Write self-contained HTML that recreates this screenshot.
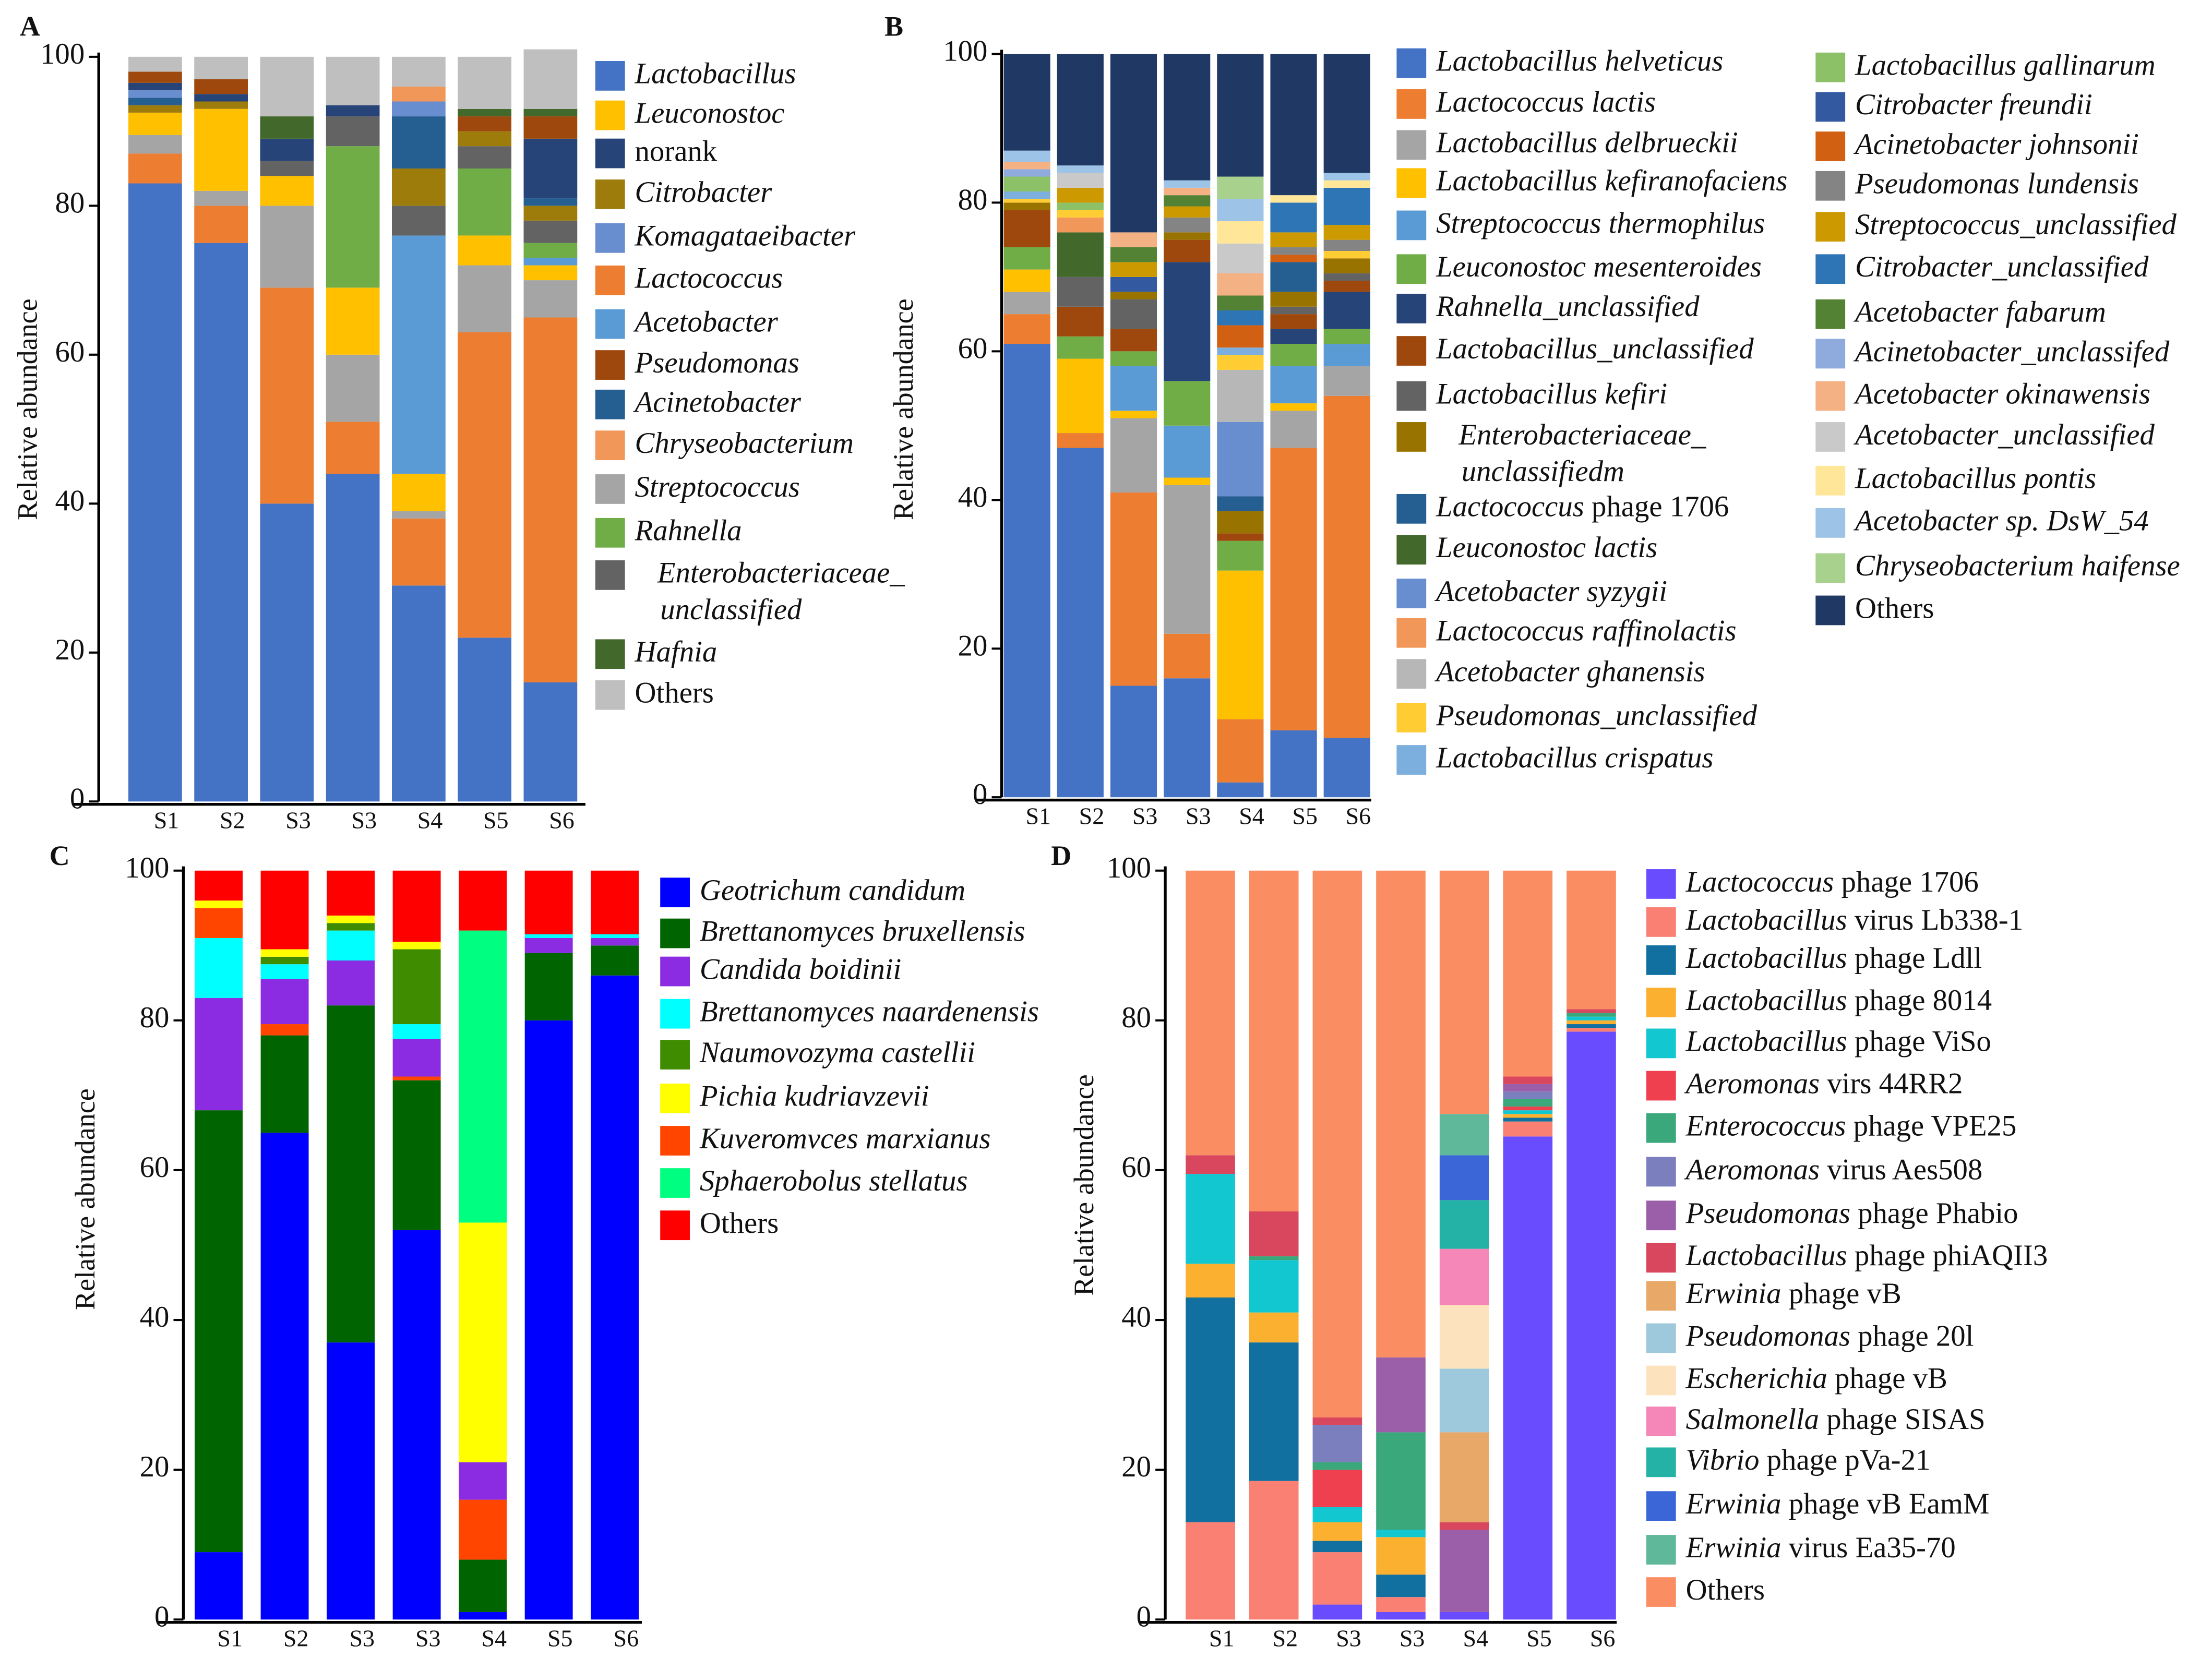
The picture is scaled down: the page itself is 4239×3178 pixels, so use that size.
<!DOCTYPE html>
<html><head><meta charset="utf-8">
<style>
html,body{margin:0;padding:0;background:#fff;}
svg{display:block;}
text{font-family:"Liberation Serif",serif;fill:#111;}
</style></head>
<body>
<svg id="fig" width="4239" height="3178" viewBox="0 0 1568 1175" xmlns="http://www.w3.org/2000/svg"></svg>
<script>
// ---------- Shared ----------
const sampleLabels = ["S1","S2","S3","S3","S4","S5","S6"];
const yTicks = [0,20,40,60,80,100];

// ---------- Panel A data ----------
const aLactobacillus = [83,75,40,44,29,22,16];
const aLactococcus   = [4,5,29,7,9,41,49];
const aStreptococcus = [2.5,2,11,9,1,9,5];
const aLeuconostoc   = [3,11,4,9,5,4,2];
const aAcetobacter   = [0,0,0,0,32,0,1];
const aRahnella      = [0,0,0,19,0,9,2];
const aEntero        = [0,0,2,4,4,3,3];
const aCitrobacter   = [1,1,0,0,5,2,2];
const aAcinetobacter = [1,0,0,0,7,0,1];
const aKomagataeibacter = [1,0,0,0,2,0,0];
const aChryseo       = [0,0,0,0,2,0,0];
const aNorank        = [1,1,3,1.5,0,0,8];
const aPseudomonas   = [1.5,2,0,0,0,2,3];
const aHafnia        = [0,0,3,0,0,1,1];
const aOthers        = [2,3,8,6.5,4,7,8];

// ---------- Panel B data ----------
const bHelveticus=[61,47,15,16,2,9,8];
const bLactis=[4,2,26,6,8.5,38,46];
const bDelbrueckii=[3,0,10,20,0,5,4];
const bKefiranofaciens=[3,10,1,1,20,1,0];
const bThermophilus=[0,0,6,7,0,5,3];
const bLeucMes=[3,3,2,6,4,3,2];
const bRahnella=[0,0,0,16,0,2,5];
const bLbUncl=[5,4,3,3,1,2,1.5];
const bKefiri=[0,4,4,0,0,1,1];
const bEntero=[1,0,1,1,3,2,2];
const bPhage=[0,0,0,0,2,4,0];
const bLeucLactis=[0,6,0,0,0,0,0];
const bSyzygii=[0,0,0,0,10,0,0];
const bRaffino=[0,2,0,0,0,0,0];
const bGhanensis=[0,0,0,0,7,0,0];
const bPsUncl=[0.5,1,0,0,2,0,1];
const bCrispatus=[1,0,0,0,1,0,0];
const bGallinarum=[2,1,0,0,0,0,0];
const bCitroFreundii=[0,0,2,0,0,0,0];
const bJohnsonii=[0,0,0,0,3,1,0];
const bLundensis=[0,0,0,2,0,1,1.5];
const bStrepUncl=[0,2,2,1.5,0,2,2];
const bCitroUncl=[0,0,0,0,2,4,5];
const bAcetoFabarum=[0,0,2,1.5,2,0,0];
const bAcinetoUncl=[1,0,0,0,0,0,0];
const bOkinawensis=[1,0,2,1,3,0,0];
const bAcetoUncl=[0,2,0,0,4,0,0];
const bPontis=[0,0,0,0,3,1,1];
const bDsW=[1.5,1,0,1,3,0,1];
const bHaifense=[0,0,0,0,3,0,0];
const bOthers=[13,15,24,17,16.5,19,16];

// ---------- Panel C data ----------
const cGeotrichum=[9,65,37,52,1,80,86];
const cBrux=[59,13,45,20,7,9,4];
const cKluyvero=[4,1.5,0,0.5,8,0,0];
const cCandida=[15,6,6,5,5,2,1];
const cNaarden=[8,2,4,2,0,0.5,0.5];
const cNaumo=[0,1,1,10,0,0,0];
const cPichia=[1,1,1,1,32,0,0];
const cSphaero=[0,0,0,0,39,0,0];
const cOthers=[4,10.5,6,9.5,8,8.5,8.5];

// ---------- Panel D data ----------
const dL1706=[0,0,2,1,1,64.5,78.5];
const dLb338=[13,18.5,7,2,0,2,0.5];
const dLdll=[30,18.5,1.5,3,0,0.5,0.5];
const d8014=[4.5,4,2.5,5,0,0.5,0.5];
const dViSo=[12,7,2,1,0,0.5,0.5];
const dAero=[0,0,5,0,0,0.5,0];
const dEntero=[0,0.5,1,13,0,1,0.5];
const dAes=[0,0,5,0,0,1,0];
const dPhabio=[0,0,0,10,11,1,0];
const dPhiAQ=[2.5,6,1,0,1,1,0.5];
const dErwVB=[0,0,0,0,12,0,0];
const dPs20l=[0,0,0,0,8.5,0,0];
const dEsch=[0,0,0,0,8.5,0,0];
const dSalm=[0,0,0,0,7.5,0,0];
const dVibrio=[0,0,0,0,6.5,0,0];
const dEamM=[0,0,0,0,6,0,0];
const dEa35=[0,0,0,0,5.5,0,0];
const dOthers=[38,45.5,73,65,32.5,27.5,18.5];

// ---------- Rendering ----------
const svg=document.getElementById('fig');
const NS="http://www.w3.org/2000/svg";
function mk(tag,attrs,parent){const e=document.createElementNS(NS,tag);for(const k in attrs)e.setAttribute(k,attrs[k]);(parent||svg).appendChild(e);return e;}

function legendText(g,x,y,label){
  const t=mk('text',{x:x,y:y,'font-size':21,'dominant-baseline':'middle'},g);
  const parts=label.split('*');
  parts.forEach((p,i)=>{ if(!p)return; const ts=mk('tspan',{},t); if(i%2===1)ts.setAttribute('font-style','italic'); ts.textContent=p;});
  return t;
}

function drawPanel(P){
  const g=mk('g',{});
  
  
  const yS=v=>P.y0-(v/100)*(P.y0-P.y100);
  const xS=i=>P.xStart+i*P.step;
  for(let i=0;i<sampleLabels.length;i++){
    let acc=0;
    const order=(P.orderFor&&P.orderFor(i))||P.series;
    order.forEach(s=>{
      const v=s.vals[i]; if(!(v>0))return;
      const r=mk('rect',{x:xS(i)-P.bw/2,y:yS(acc+v),width:P.bw,height:yS(acc)-yS(acc+v),fill:s.color},g);
      
      
      acc+=v;
    });
  }
  const ya=mk('line',{x1:P.ax,y1:P.y100-3,x2:P.ax,y2:P.y0,stroke:'#000','stroke-width':2},g);
  
  
  const xa=mk('line',{x1:P.ax-18,y1:P.y0+2,x2:P.axEnd,y2:P.y0+2,stroke:'#000','stroke-width':2},g);
  
  
  yTicks.forEach(t=>{
    mk('line',{x1:P.ax-7,y1:yS(t),x2:P.ax,y2:yS(t),stroke:'#000','stroke-width':1.5},g);
    const tl=mk('text',{x:P.ax-10,y:yS(t),'font-size':21,'text-anchor':'end','dominant-baseline':'middle'},g);
    
    
    tl.textContent=t;
  });
  sampleLabels.forEach((s,i)=>{
    const tl=mk('text',{x:xS(i)+8,y:P.y0+19,'font-size':17,'text-anchor':'middle'},g);
    
    
    tl.textContent=s;
  });
  const yt=mk('text',{x:0,y:0,'font-size':20,'text-anchor':'middle',transform:`translate(${P.ytx},${P.yty}) rotate(-90)`},g);
  
  
  yt.textContent='Relative abundance';
  const lt=mk('text',{x:P.lx,y:P.ly,'font-size':20,'font-weight':'bold'},g);
  
  
  lt.textContent=P.letter;
  P.legend.forEach(col=>{
    col.items.forEach((it,k)=>{
      const y=col.ys[k];
      const sw=mk('rect',{x:col.x,y:y-10,width:21,height:21,fill:it.color},g);
      
      
      const lines=it.label.split('|');
      lines.forEach((ln,j)=>{
        const t=legendText(g,col.x+28+(lines.length>1?16:0)+(j>0?2:0),y+j*26+1,ln);
        
        
      });
    });
  });
}

// Panel A
const aSeries=[
 {vals:aLactobacillus,color:'#4472c4'},{vals:aLactococcus,color:'#ed7d31'},{vals:aStreptococcus,color:'#a5a5a5'},
 {vals:aLeuconostoc,color:'#ffc000'},{vals:aAcetobacter,color:'#5b9bd5'},{vals:aRahnella,color:'#70ad47'},
 {vals:aEntero,color:'#636363'},{vals:aCitrobacter,color:'#9e7c0c'},{vals:aAcinetobacter,color:'#255e91'},
 {vals:aKomagataeibacter,color:'#698ed0'},{vals:aChryseo,color:'#f1975a'},{vals:aNorank,color:'#264478'},
 {vals:aPseudomonas,color:'#9e480e'},{vals:aHafnia,color:'#43682b'},{vals:aOthers,color:'#bfbfbf'}];
const aLegend=[
 ['*Lactobacillus*','#4472c4'],['*Leuconostoc*','#ffc000'],['norank','#264478'],['*Citrobacter*','#9e7c0c'],
 ['*Komagataeibacter*','#698ed0'],['*Lactococcus*','#ed7d31'],['*Acetobacter*','#5b9bd5'],['*Pseudomonas*','#9e480e'],
 ['*Acinetobacter*','#255e91'],['*Chryseobacterium*','#f1975a'],['*Streptococcus*','#a5a5a5'],['*Rahnella*','#70ad47'],
 ['*Enterobacteriaceae_*|*unclassified*','#636363'],['*Hafnia*','#43682b'],['Others','#bfbfbf']];
drawPanel({name:'panel-a',letter:'A',lx:14,ly:25,y0:568,y100:40,ax:70,axEnd:415,xStart:110,step:46.7,bw:38,ytx:26,yty:290,
 series:aSeries,legend:[{x:422,ys:[53,81,108,137,168,198,229,258,286,315,346,377,407,463,492],items:aLegend.map(a=>({label:a[0],color:a[1]}))}]});

// Panel B
const bDefs=[
 [bHelveticus,'#4472c4','*Lactobacillus helveticus*'],[bLactis,'#ed7d31','*Lactococcus lactis*'],
 [bDelbrueckii,'#a5a5a5','*Lactobacillus delbrueckii*'],[bKefiranofaciens,'#ffc000','*Lactobacillus kefiranofaciens*'],
 [bThermophilus,'#5b9bd5','*Streptococcus thermophilus*'],[bLeucMes,'#70ad47','*Leuconostoc mesenteroides*'],
 [bRahnella,'#264478','*Rahnella_unclassified*'],[bLbUncl,'#9e480e','*Lactobacillus_unclassified*'],
 [bKefiri,'#636363','*Lactobacillus kefiri*'],[bEntero,'#997300','*Enterobacteriaceae_*|*unclassifiedm*'],
 [bPhage,'#255e91','*Lactococcus* phage 1706'],[bLeucLactis,'#43682b','*Leuconostoc lactis*'],
 [bSyzygii,'#698ed0','*Acetobacter syzygii*'],[bRaffino,'#f1975a','*Lactococcus raffinolactis*'],
 [bGhanensis,'#b7b7b7','*Acetobacter ghanensis*'],[bPsUncl,'#ffcd33','*Pseudomonas_unclassified*'],
 [bCrispatus,'#7cafdd','*Lactobacillus crispatus*'],
 [bGallinarum,'#8cc168','*Lactobacillus gallinarum*'],[bCitroFreundii,'#335aa1','*Citrobacter freundii*'],
 [bJohnsonii,'#d26012','*Acinetobacter johnsonii*'],[bLundensis,'#848484','*Pseudomonas lundensis*'],
 [bStrepUncl,'#cc9a00','*Streptococcus_unclassified*'],[bCitroUncl,'#2e75b6','*Citrobacter_unclassified*'],
 [bAcetoFabarum,'#548235','*Acetobacter fabarum*'],[bAcinetoUncl,'#8faadc','*Acinetobacter_unclassifed*'],
 [bOkinawensis,'#f4b183','*Acetobacter okinawensis*'],[bAcetoUncl,'#c9c9c9','*Acetobacter_unclassified*'],
 [bPontis,'#ffe699','*Lactobacillus pontis*'],[bDsW,'#9dc3e6','*Acetobacter sp. DsW_54*'],
 [bHaifense,'#a9d18e','*Chryseobacterium haifense*'],[bOthers,'#203864','Others']];
drawPanel({name:'panel-b',letter:'B',lx:627,ly:25,y0:565,y100:38,ax:710,axEnd:972,xStart:728,step:37.8,bw:33,ytx:647,yty:290,
 series:bDefs.map(d=>({vals:d[0],color:d[1]})),
 legend:[{x:990,ys:[44,73,102,129,159,190,218,248,280,309,360,389,420,448,477,508,538],items:bDefs.slice(0,17).map(d=>({label:d[2],color:d[1]}))},
         {x:1287,ys:[47,75,103,131,160,190,222,250,280,309,340,370,402,432],items:bDefs.slice(17).map(d=>({label:d[2],color:d[1]}))}]});

// Panel C
const cDefs=[
 [cGeotrichum,'#0000ff','*Geotrichum candidum*'],[cBrux,'#006400','*Brettanomyces bruxellensis*'],
 [cKluyvero,'#ff4500','*Kuveromvces marxianus*'],[cCandida,'#8b2be2','*Candida boidinii*'],[cNaarden,'#00ffff','*Brettanomyces naardenensis*'],
 [cNaumo,'#3f8c00','*Naumovozyma castellii*'],[cPichia,'#ffff00','*Pichia kudriavzevii*'],
 [cSphaero,'#00ff80','*Sphaerobolus stellatus*'],[cOthers,'#ff0000','Others']];
const cSeries=cDefs.map(d=>({vals:d[0],color:d[1]}));
const cLegend=[cDefs[0],cDefs[1],cDefs[3],cDefs[4],cDefs[5],cDefs[6],cDefs[2],cDefs[7],cDefs[8]];
drawPanel({name:'panel-c',letter:'C',lx:35,ly:613,y0:1148,y100:617,ax:130,axEnd:455,xStart:155,step:46.8,bw:34,ytx:67,yty:850,
 series:cSeries,
 orderFor:i=>i===0?[cSeries[0],cSeries[1],cSeries[3],cSeries[4],cSeries[5],cSeries[2],cSeries[6],cSeries[7],cSeries[8]]:null,
 legend:[{x:468,ys:[632,661,688,718,747,778,808,838,868],items:cLegend.map(d=>({label:d[2],color:d[1]}))}]});

// Panel D
const dDefs=[
 [dL1706,'#6a4cff','*Lactococcus* phage 1706'],[dLb338,'#f98072','*Lactobacillus* virus Lb338-1'],
 [dLdll,'#1170a0','*Lactobacillus* phage Ldll'],[d8014,'#fbb030','*Lactobacillus* phage 8014'],
 [dViSo,'#12c7d0','*Lactobacillus* phage ViSo'],[dAero,'#ef4050','*Aeromonas* virs 44RR2'],
 [dEntero,'#3aa87a','*Enterococcus* phage VPE25'],[dAes,'#7b7fbe','*Aeromonas* virus Aes508'],
 [dPhabio,'#9a5fa8','*Pseudomonas* phage Phabio'],[dPhiAQ,'#d9475e','*Lactobacillus* phage phiAQII3'],
 [dErwVB,'#e8a868','*Erwinia* phage vB'],[dPs20l,'#9ec8db','*Pseudomonas* phage 20l'],
 [dEsch,'#fce3bd','*Escherichia* phage vB'],[dSalm,'#f486b8','*Salmonella* phage SISAS'],
 [dVibrio,'#24b1a6','*Vibrio* phage pVa-21'],[dEamM,'#3a66d8','*Erwinia* phage vB EamM'],
 [dEa35,'#5fb899','*Erwinia* virus Ea35-70'],[dOthers,'#fa8d62','Others']];
drawPanel({name:'panel-d',letter:'D',lx:745,ly:613,y0:1148,y100:617,ax:826,axEnd:1146,xStart:858,step:45,bw:35,ytx:775,yty:840,
 series:dDefs.map(d=>({vals:d[0],color:d[1]})),
 legend:[{x:1167,ys:[626,653,680,710,739,769,799,830,861,891,918,948,978,1007,1036,1067,1098,1128],items:dDefs.map(d=>({label:d[2],color:d[1]}))}]});
</script>
</body></html>
